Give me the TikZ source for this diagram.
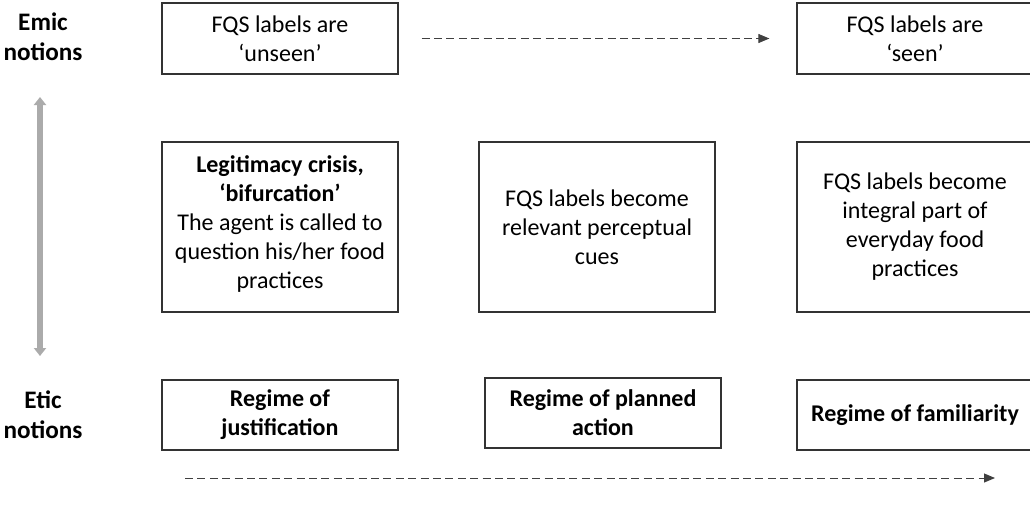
\documentclass[tikz,border=0pt]{standalone}
\usepackage{fontspec}
\setmainfont{Carlito}
\usetikzlibrary{arrows.meta}

\begin{document}
\begin{tikzpicture}[
  x=0.5pt, y=-0.5pt,
  box/.style={draw=black!80, line width=0.6pt, align=center, inner sep=2pt,
    minimum width=118pt, font=\fontsize{12}{14.5}\selectfont},
  tbox/.style={box, minimum height=35.5pt},
  mbox/.style={box, minimum height=85pt},
  bbox/.style={box, minimum height=35pt, font=\fontsize{12}{14.5}\selectfont\bfseries},
  rowhead/.style={align=center, font=\fontsize{12.6}{15}\selectfont\bfseries},
  flow/.style={draw=black!75, line width=0.5pt, dash pattern=on 4pt off 2.2pt,
    -{Triangle[length=5.5pt,width=4.5pt]}},
  axis/.style={draw=black!33, line width=2.6pt,
    {Triangle[width=6pt,length=4pt]}-{Triangle[width=6pt,length=4pt]}}
]
  \useasboundingbox (0,0) rectangle (1030,516);
  \clip (0,0) rectangle (1030,516);

  % row heads
  \node[rowhead] (emic) at (43,37)  {Emic\\notions};
  \node[rowhead] (etic) at (43,415) {Etic\\notions};

  % top row
  \node[tbox] (t1) at (280,38.5) {FQS labels are\\‘unseen’};
  \node[tbox] (t3) at (915,38.5) {FQS labels are\\‘seen’};

  % middle row
  \node[mbox] (m1) at (280,227) {\textbf{Legitimacy crisis,}\\\textbf{‘bifurcation’}\\The agent is called to\\question his/her food\\practices\\[-10pt]\mbox{}};
  \node[mbox] (m2) at (597,227) {FQS labels become\\relevant perceptual\\cues};
  \node[mbox] (m3) at (915,227) {FQS labels become\\integral part of\\everyday food\\practices};

  % bottom row
  \node[bbox] (b1) at (280,415) {Regime of\\justification};
  \node[bbox] (b2) at (603,413) {Regime of planned\\action};
  \node[bbox] (b3) at (915,415) {Regime of familiarity};

  \coordinate (up)   at (40,97);
  \coordinate (down) at (40,356);
  \coordinate (tstart) at (185,478);
  \coordinate (tend)   at (995,478);

  \draw[flow, shorten <=11.5pt, shorten >=13.5pt] (t1.east) -- (t3.west);
  \draw[flow] (tstart) -- (tend);
  \draw[axis] (up) -- (down);
\end{tikzpicture}
\end{document}
